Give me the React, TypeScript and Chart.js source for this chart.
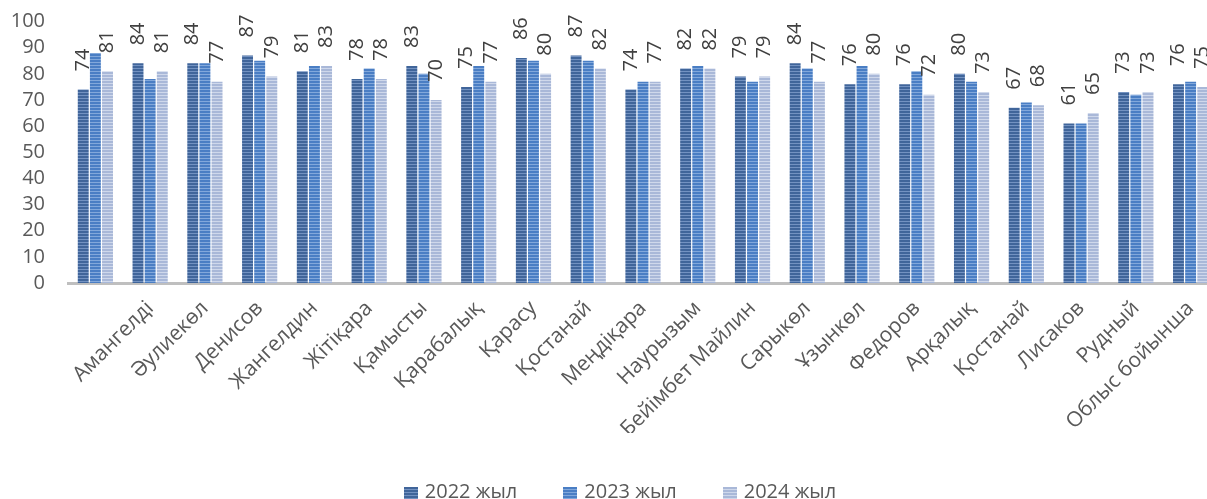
import { useEffect, useRef } from "react";
import { Chart, registerables } from "chart.js";

Chart.register(...registerables);

const categories = [
  "",
  "Амангелді",
  "Әулиекөл",
  "Денисов",
  "Жангелдин",
  "Жітіқара",
  "Қамысты",
  "Қарабалық",
  "Қарасу",
  "Қостанай",
  "Меңдіқара",
  "Наурызым",
  "Бейімбет Майлин",
  "Сарыкөл",
  "Ұзынкөл",
  "Федоров",
  "Арқалық",
  "Қостанай",
  "Лисаков",
  "Рудный",
  "Облыс бойынша",
];

const series2022 = [74, 84, 84, 87, 81, 78, 83, 75, 86, 87, 74, 82, 79, 84, 76, 76, 80, 67, 61, 73, 76];
const series2023 = [88, 78, 84, 85, 83, 82, 80, 83, 85, 85, 77, 83, 77, 82, 83, 81, 77, 69, 61, 72, 77];
const series2024 = [81, 81, 77, 79, 83, 78, 70, 77, 80, 82, 77, 82, 79, 77, 80, 72, 73, 68, 65, 73, 75];

const seriesNames = ["2022 жыл", "2023 жыл", "2024 жыл"];
const labeledSeries = [0, 2];

const yMin = 0;
const yMax = 100;
const yStep = 10;

const FONT = "'Open Sans', 'Noto Sans', sans-serif";
const TEXT = "#595959";
const COLORS = [
  { main: "#40659a", light: "#7392c1" },
  { main: "#4a7ec4", light: "#82a8db" },
  { main: "#a9b8d8", light: "#cfd8eb" },
];

const W = 1240;
const H = 499;

function makePattern(main: string, light: string): CanvasPattern | string {
  const c = document.createElement("canvas");
  c.width = 4;
  c.height = 3;
  const g = c.getContext("2d");
  if (!g) return main;
  g.fillStyle = main;
  g.fillRect(0, 0, 4, 2);
  g.fillStyle = light;
  g.fillRect(0, 2, 4, 1);
  return g.createPattern(c, "repeat") || main;
}

const valueLabels = {
  id: "valueLabels",
  afterDatasetsDraw(chart: any) {
    const ctx = chart.ctx as CanvasRenderingContext2D;
    ctx.save();
    ctx.font = `20px ${FONT}`;
    ctx.fillStyle = "#404040";
    ctx.textAlign = "left";
    ctx.textBaseline = "middle";
    labeledSeries.forEach((di) => {
      const meta = chart.getDatasetMeta(di);
      meta.data.forEach((el: any, i: number) => {
        const v = chart.data.datasets[di].data[i];
        ctx.save();
        ctx.translate(el.x, el.y - 18);
        ctx.rotate(-Math.PI / 2);
        ctx.fillText(String(v), 0, 0);
        ctx.restore();
      });
    });
    ctx.restore();
  },
};

export default function App() {
  const ref = useRef<HTMLCanvasElement | null>(null);

  useEffect(() => {
    if (!ref.current) return;
    const allSeries = [series2022, series2023, series2024];
    const chart = new Chart(ref.current, {
      type: "bar",
      data: {
        labels: categories,
        datasets: allSeries.map((d, i) => ({
          label: seriesNames[i],
          data: d,
          backgroundColor: makePattern(COLORS[i].main, COLORS[i].light) as any,
          borderWidth: 0,
          categoryPercentage: 0.665,
          barPercentage: 0.9,
        })),
      },
      options: {
        animation: false,
        responsive: false,
        layout: { padding: { left: 11, top: 21.5, right: 22, bottom: 66 } },
        plugins: {
          legend: { display: false },
          tooltip: { enabled: false },
        },
        scales: {
          x: {
            grid: { display: false, drawTicks: false },
            border: { display: true, color: "#bfbfbf", width: 3 },
            ticks: {
              color: TEXT,
              font: { size: 21, family: FONT },
              minRotation: 45,
              maxRotation: 45,
              autoSkip: false,
              padding: 13,
            },
            afterFit(scale: any) {
              scale.paddingLeft = 0;
              scale.paddingRight = 0;
              scale.height = 150;
            },
          },
          y: {
            min: yMin,
            max: yMax,
            grid: { display: false, drawTicks: false },
            border: { display: false },
            ticks: {
              stepSize: yStep,
              autoSkip: false,
              color: TEXT,
              font: { size: 20, family: FONT },
              padding: 23,
            },
            afterFit(scale: any) {
              scale.paddingTop = 0;
              scale.paddingBottom = 0;
              scale.width = 57;
            },
          },
        },
      },
      plugins: [valueLabels],
    });
    return () => chart.destroy();
  }, []);

  const swatch = (i: number) =>
    `repeating-linear-gradient(to bottom, ${COLORS[i].main} 0px, ${COLORS[i].main} 2px, ${COLORS[i].light} 2px, ${COLORS[i].light} 3px)`;

  return (
    <div
      style={{
        position: "fixed",
        left: 0,
        top: 0,
        width: 1207,
        height: H,
        overflow: "hidden",
        background: "#fff",
      }}
    >
      <div style={{ position: "relative", width: W, height: H }}>
        <canvas ref={ref} width={W} height={H} style={{ display: "block" }} />
        <div
          style={{
            position: "absolute",
            left: 0,
            top: 481,
            width: W,
            display: "flex",
            justifyContent: "center",
            gap: 46,
            fontFamily: FONT,
            fontSize: 20,
            lineHeight: "20px",
            color: TEXT,
            whiteSpace: "nowrap",
          }}
        >
          {seriesNames.map((n, i) => (
            <div key={n} style={{ display: "flex", alignItems: "center" }}>
              <span
                style={{
                  display: "inline-block",
                  width: 14,
                  height: 14,
                  marginRight: 7,
                  marginTop: 6,
                  background: swatch(i),
                }}
              />
              <span>{n}</span>
            </div>
          ))}
        </div>
      </div>
    </div>
  );
}
